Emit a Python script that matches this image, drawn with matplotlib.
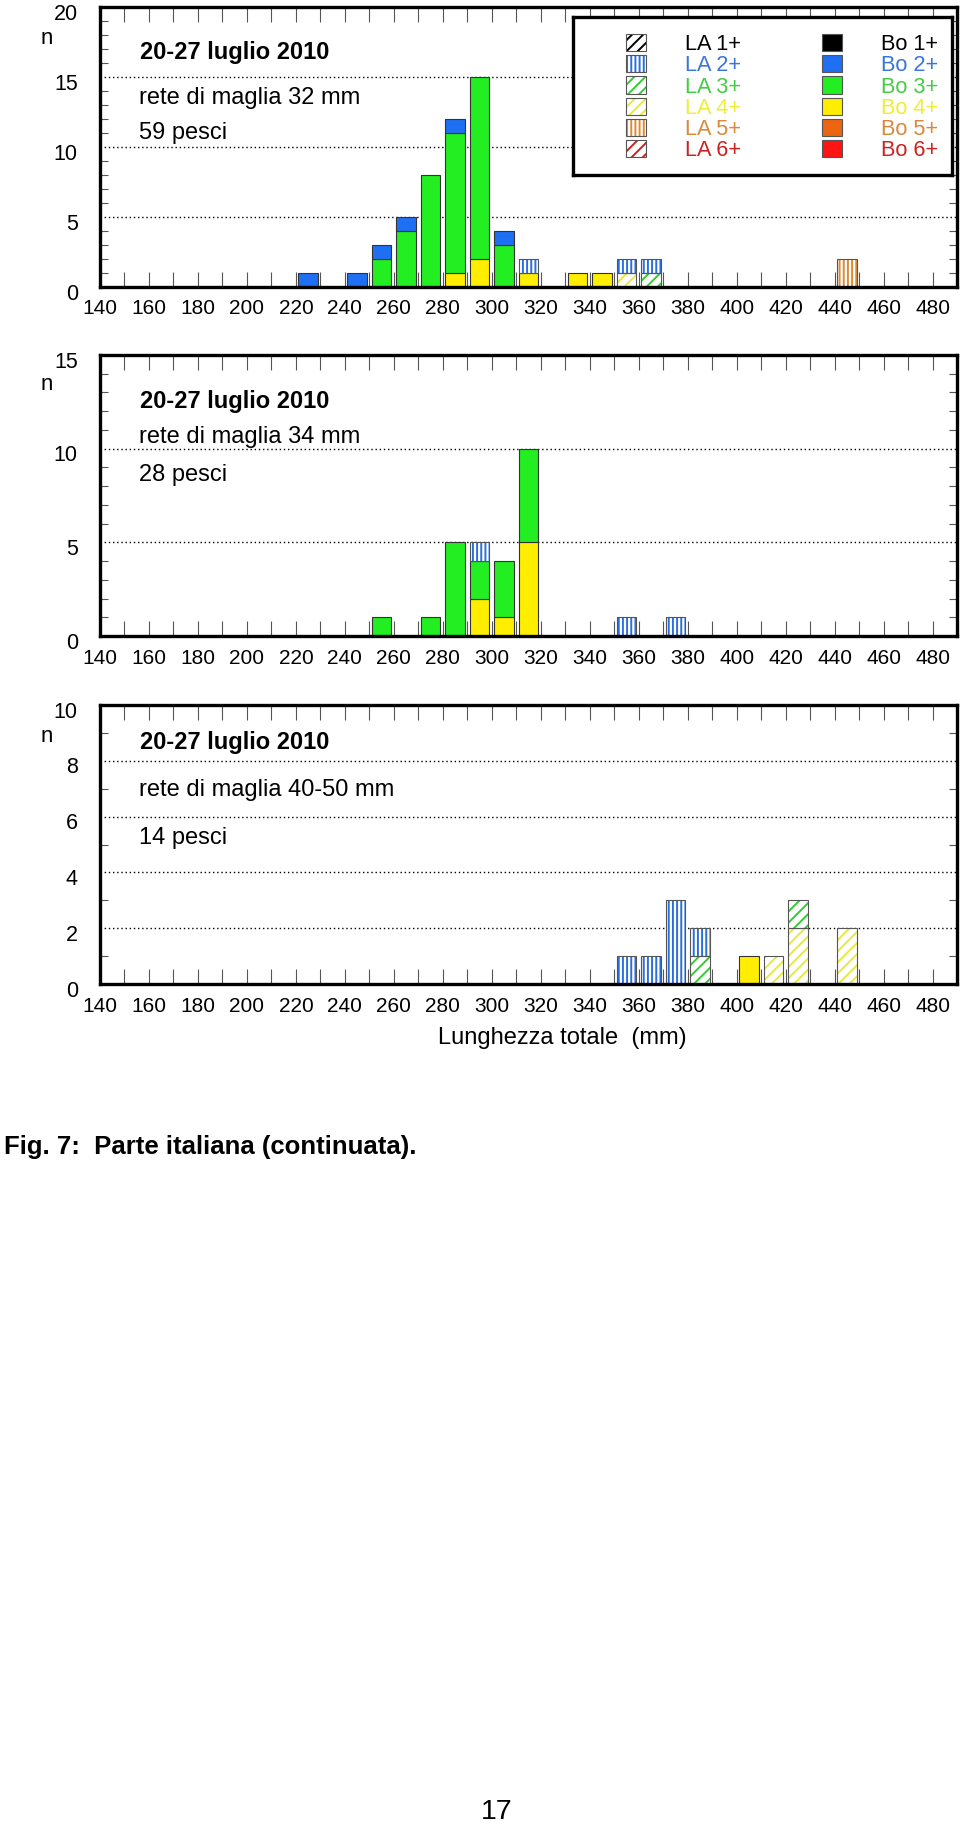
import numpy as np
import matplotlib
matplotlib.use("Agg")
import matplotlib.pyplot as plt
from matplotlib import font_manager
from matplotlib.patches import Patch
from matplotlib.ticker import MultipleLocator
from matplotlib.transforms import ScaledTranslation

plt.rcParams['font.family'] = ['Liberation Sans', 'DejaVu Sans']
plt.rcParams['hatch.linewidth'] = 1.4

# Classi di lunghezza (centro della classe, mm) e numero di pesci per età
# rete 32 mm
p1_len = [225, 245, 255, 265, 275, 285, 295, 305, 315, 335, 345, 355, 365, 445]
p1_bo2 = [1, 1, 1, 1, 0, 1, 0, 1, 0, 0, 0, 0, 0, 0]
p1_bo3 = [0, 0, 2, 4, 8, 10, 13, 3, 0, 0, 0, 0, 0, 0]
p1_bo4 = [0, 0, 0, 0, 0, 1, 2, 0, 1, 1, 1, 0, 0, 0]
p1_la2 = [0, 0, 0, 0, 0, 0, 0, 0, 1, 0, 0, 1, 1, 0]
p1_la3 = [0, 0, 0, 0, 0, 0, 0, 0, 0, 0, 0, 0, 1, 0]
p1_la4 = [0, 0, 0, 0, 0, 0, 0, 0, 0, 0, 0, 1, 0, 0]
p1_la5 = [0, 0, 0, 0, 0, 0, 0, 0, 0, 0, 0, 0, 0, 2]

# rete 34 mm
p2_len = [255, 275, 285, 295, 305, 315, 355, 375]
p2_bo3 = [1, 1, 5, 2, 3, 5, 0, 0]
p2_bo4 = [0, 0, 0, 2, 1, 5, 0, 0]
p2_la2 = [0, 0, 0, 1, 0, 0, 1, 1]

# rete 40-50 mm
p3_len = [355, 365, 375, 385, 405, 415, 425, 445]
p3_la2 = [1, 1, 3, 1, 0, 0, 0, 0]
p3_la3 = [0, 0, 0, 1, 0, 0, 1, 0]
p3_la4 = [0, 0, 0, 0, 0, 1, 2, 2]
p3_bo4 = [0, 0, 0, 0, 1, 0, 0, 0]

x_ticks = list(range(140, 481, 20))

classes = ['1+', '2+', '3+', '4+', '5+', '6+']
bo_colors = ['#000000', '#1f6ff2', '#22ee22', '#ffee00', '#ec6612', '#ff1414']
la_colors = ['#000000', '#2a6fe0', '#33cc33', '#e8e840', '#e08a30', '#cc2020']
txt_colors = ['#000000', '#3a75d8', '#44cc44', '#eeee33', '#d9893a', '#cc2222']
la_hatch = ['///', '||||', '///', '///', '||||', '///']

EDGE = '#333333'


def stack(ax, lengths, series):
    # series: lista (tipo, indice età, valori), dal basso verso l'alto
    lengths = np.array(lengths)
    bottom = np.zeros(len(lengths))
    for kind, i, vals in series:
        vals = np.array(vals, dtype=float)
        m = vals > 0
        if kind == 'Bo':
            ax.bar(lengths[m], vals[m], width=8, bottom=bottom[m], color=bo_colors[i],
                   edgecolor=EDGE, linewidth=0.8, zorder=3)
        else:
            ax.bar(lengths[m], vals[m], width=8, bottom=bottom[m], color='white',
                   edgecolor=la_colors[i], hatch=la_hatch[i], linewidth=0, zorder=3)
            ax.bar(lengths[m], vals[m], width=8, bottom=bottom[m], fill=False,
                   edgecolor='#555555', linewidth=0.8, zorder=4)
        bottom += vals


def style(ax, ymax, ystep, lines):
    ax.set_xlim(140, 490)
    ax.set_ylim(0, ymax)
    ax.set_xticks(x_ticks)
    ax.xaxis.set_minor_locator(MultipleLocator(10))
    ax.tick_params(axis='x', which='both', direction='in', top=True, bottom=True,
                   length=10.5, width=0.8, color='#555555', labelsize=15, pad=9)
    ax.set_yticks(np.arange(0, ymax + 1, ystep))
    ax.yaxis.set_minor_locator(MultipleLocator(1))
    ax.tick_params(axis='y', which='major', length=0, labelsize=15.5, pad=16)
    ax.tick_params(axis='y', which='minor', direction='in', left=True, right=True,
                   length=6, width=0.8, color='#555555')
    # le etichette dell'asse y stanno un po' sotto la linea
    for lbl in ax.get_yticklabels():
        lbl.set_transform(lbl.get_transform() + ScaledTranslation(0, -0.045, fig.dpi_scale_trans))
    ax.yaxis.grid(True, which='major', color='black', linestyle=(0, (1, 2)), linewidth=1)
    for s in ax.spines.values():
        s.set_linewidth(2.4)
        s.set_zorder(6)
    ax.text(0.047, lines[0][1], '20-27 luglio 2010', transform=ax.transAxes,
            fontsize=17, fontweight='bold', va='center')
    ax.text(0.045, lines[1][1], lines[1][0], transform=ax.transAxes, fontsize=17, va='center')
    ax.text(0.045, lines[2][1], lines[2][0], transform=ax.transAxes, fontsize=17, va='center')


fig = plt.figure(figsize=(9.6, 18.25), dpi=100)
W, H = 960, 1825


def add_ax(top, bottom):
    return fig.add_axes([100 / W, 1 - bottom / H, 857 / W, (bottom - top) / H])


ax1 = add_ax(7, 287)
ax2 = add_ax(355, 636)
ax3 = add_ax(705, 984)

stack(ax1, p1_len, [('Bo', 3, p1_bo4), ('LA', 3, p1_la4), ('Bo', 2, p1_bo3), ('LA', 2, p1_la3),
                    ('Bo', 1, p1_bo2), ('LA', 1, p1_la2), ('LA', 4, p1_la5)])
stack(ax2, p2_len, [('Bo', 3, p2_bo4), ('Bo', 2, p2_bo3), ('LA', 1, p2_la2)])
stack(ax3, p3_len, [('Bo', 3, p3_bo4), ('LA', 3, p3_la4), ('LA', 2, p3_la3), ('LA', 1, p3_la2)])

style(ax1, 20, 5, [(None, 0.836), ('rete di maglia 32 mm', 0.675), ('59 pesci', 0.55)])
style(ax2, 15, 5, [(None, 0.833), ('rete di maglia 34 mm', 0.708), ('28 pesci', 0.573)])
style(ax3, 10, 2, [(None, 0.864), ('rete di maglia 40-50 mm', 0.695), ('14 pesci', 0.523)])

ax3.set_xlabel('Lunghezza totale  (mm)', fontsize=17, va='center')
ax3.xaxis.set_label_coords(0.54, -0.194)

for y in (38, 384, 737):
    fig.text(47 / W, 1 - y / H, 'n', fontsize=16, ha='center', va='center')

# legenda
lax = fig.add_axes([573 / W, 1 - 175 / H, 379 / W, 158 / H])
lax.set_xticks([])
lax.set_yticks([])
for s in lax.spines.values():
    s.set_linewidth(2.4)
handles = []
labels = []
for i, c in enumerate(classes):
    handles.append((Patch(facecolor='white', edgecolor=la_colors[i], hatch=la_hatch[i], linewidth=0),
                    Patch(fill=False, edgecolor='#555555', linewidth=0.8)))
    labels.append('LA ' + c)
for i, c in enumerate(classes):
    handles.append(Patch(facecolor=bo_colors[i], edgecolor='#555555', linewidth=0.8))
    labels.append('Bo ' + c)
leg = lax.legend(handles, labels, ncol=2, loc='center', bbox_to_anchor=(0.552, 0.49),
                 frameon=False, fontsize=15.7, handlelength=0.92, handleheight=0.85,
                 handletextpad=1.8, columnspacing=3.7, labelspacing=0.0,
                 borderpad=0, labelcolor=txt_colors + txt_colors)

# didascalia (carattere stretto se disponibile)
has_narrow = any(f.name == 'Liberation Sans Narrow' for f in font_manager.fontManager.ttflist)
if has_narrow:
    fig.text(4 / W, 1 - 1147 / H, 'Fig. 7:  Parte italiana (continuata).', fontsize=22,
             family='Liberation Sans Narrow', fontweight='bold', va='center')
else:
    fig.text(4 / W, 1 - 1147 / H, 'Fig. 7:  Parte italiana (continuata).', fontsize=18.5,
             fontweight='bold', va='center')
fig.text(497 / W, 1 - 1812 / H, '17', fontsize=20.5, ha='center', va='center')

fig.savefig('out.png', dpi=100)
